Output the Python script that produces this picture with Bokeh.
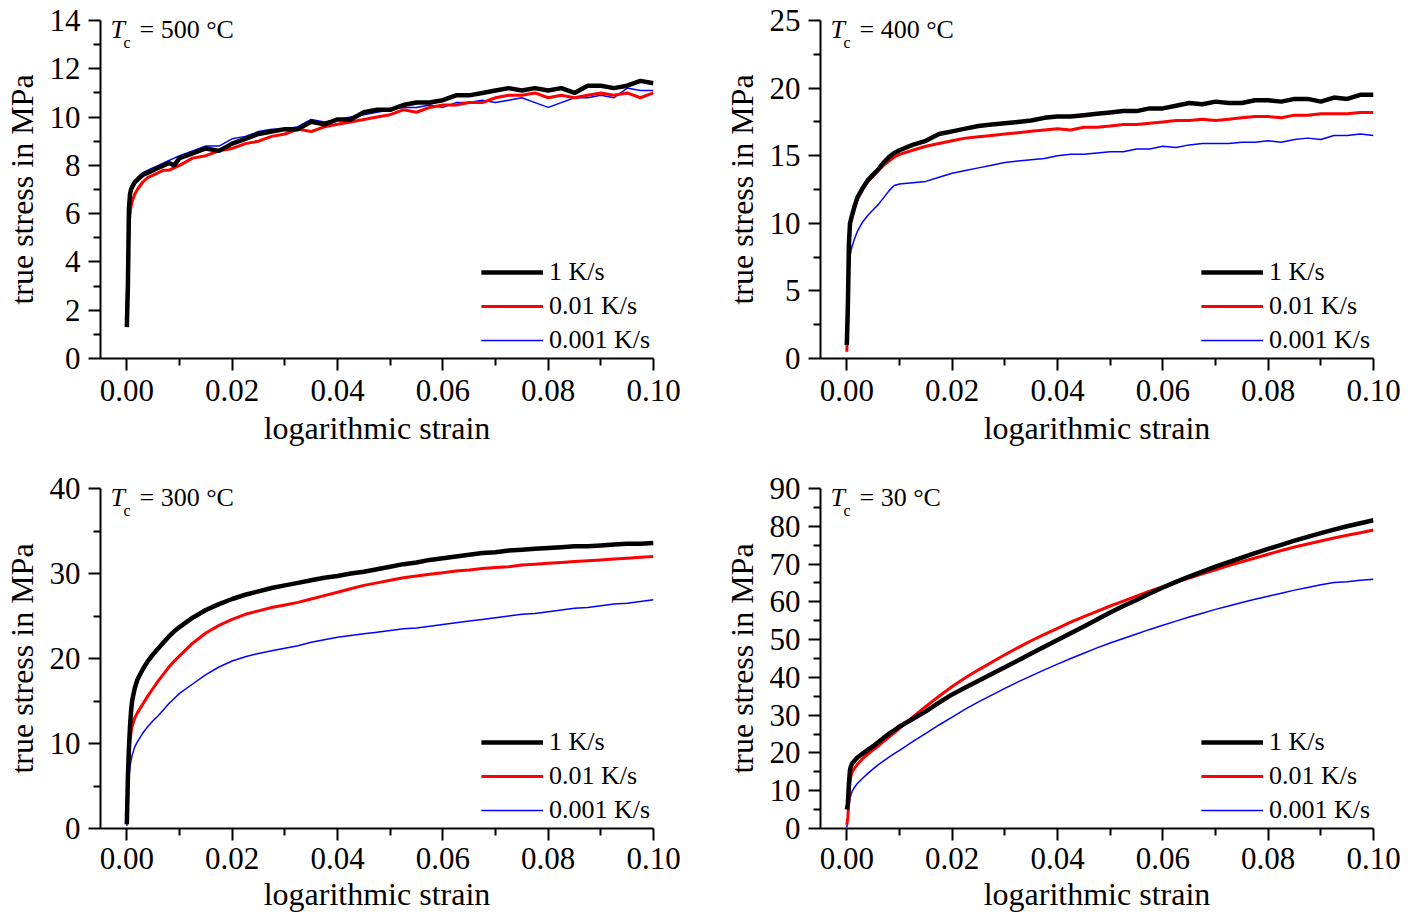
from bokeh.plotting import figure
from bokeh.models import Range1d, FixedTicker, NumeralTickFormatter, Legend, LegendItem, Label
from bokeh.layouts import column, row
from bokeh.embed import file_html
from bokeh.resources import INLINE

# ---------------- data ----------------
strain = [0.0, 0.0002, 0.0004, 0.0006, 0.0008, 0.001, 0.0015, 0.002, 0.003, 0.004, 0.005, 0.006,
          0.007, 0.008, 0.009, 0.010, 0.0125, 0.015, 0.0175, 0.020, 0.0225, 0.025, 0.0275, 0.030,
          0.0325, 0.035, 0.0375, 0.040, 0.0425, 0.045, 0.0475, 0.050, 0.0525, 0.055, 0.0575, 0.060,
          0.0625, 0.065, 0.0675, 0.070, 0.0725, 0.075, 0.0775, 0.080, 0.0825, 0.085, 0.0875, 0.090,
          0.0925, 0.095, 0.0975, 0.100]

series_labels = ["1 K/s", "0.01 K/s", "0.001 K/s"]

# Tc = 500 C
t500_1 = [1.3, 3.0, 6.2, 6.8, 7.0, 7.1, 7.3, 7.4, 7.6, 7.7, 7.8, 7.9, 8.0, 8.1, 8.0, 8.3,
          8.5, 8.7, 8.6, 8.9, 9.1, 9.3, 9.4, 9.5, 9.5, 9.8, 9.7, 9.9, 9.9, 10.2, 10.3, 10.3,
          10.5, 10.6, 10.6, 10.7, 10.9, 10.9, 11.0, 11.1, 11.2, 11.1, 11.2, 11.1, 11.2, 11.0,
          11.3, 11.3, 11.2, 11.3, 11.5, 11.4]
t500_001 = [2.0, 3.5, 5.5, 6.0, 6.3, 6.5, 6.8, 7.0, 7.3, 7.5, 7.6, 7.7, 7.8, 7.8, 7.9, 8.0,
            8.3, 8.4, 8.6, 8.7, 8.9, 9.0, 9.2, 9.3, 9.5, 9.4, 9.6, 9.7, 9.8, 9.9, 10.0, 10.1,
            10.3, 10.2, 10.4, 10.5, 10.5, 10.6, 10.6, 10.8, 10.9, 10.9, 11.0, 10.8, 10.9, 10.8,
            10.9, 11.0, 10.9, 11.0, 10.8, 11.0]
t500_0001 = [2.5, 4.0, 6.5, 6.9, 7.1, 7.2, 7.35, 7.5, 7.7, 7.8, 7.9, 8.0, 8.1, 8.2, 8.3, 8.4,
             8.6, 8.8, 8.8, 9.1, 9.2, 9.4, 9.5, 9.5, 9.6, 9.9, 9.8, 9.9, 10.0, 10.1, 10.2, 10.3,
             10.4, 10.4, 10.5, 10.4, 10.6, 10.6, 10.7, 10.6, 10.7, 10.8, 10.6, 10.4, 10.6, 10.8,
             10.8, 10.9, 10.8, 11.2, 11.1, 11.1]

# Tc = 400 C
t400_1 = [1.0, 4.0, 8.5, 10.0, 10.3, 10.6, 11.3, 11.9, 12.6, 13.2, 13.6, 14.0, 14.5, 14.9, 15.2, 15.4,
          15.8, 16.1, 16.6, 16.8, 17.0, 17.2, 17.3, 17.4, 17.5, 17.6, 17.8, 17.9, 17.9, 18.0, 18.1, 18.2,
          18.3, 18.3, 18.5, 18.5, 18.7, 18.9, 18.8, 19.0, 18.9, 18.9, 19.1, 19.1, 19.0, 19.2,
          19.2, 19.0, 19.3, 19.2, 19.5, 19.5]
t400_001 = [0.5, 3.0, 8.0, 9.8, 10.2, 10.5, 11.2, 11.8, 12.5, 13.1, 13.5, 13.9, 14.3, 14.6, 14.9, 15.1,
            15.4, 15.7, 15.9, 16.1, 16.3, 16.4, 16.5, 16.6, 16.7, 16.8, 16.9, 17.0, 16.9, 17.1, 17.1, 17.2,
            17.3, 17.3, 17.4, 17.5, 17.6, 17.6, 17.7, 17.6, 17.7, 17.8, 17.9, 17.9, 17.8, 18.0,
            18.0, 18.1, 18.1, 18.1, 18.2, 18.2]
t400_0001 = [1.0, 3.5, 6.5, 7.5, 8.0, 8.3, 8.9, 9.4, 10.1, 10.6, 11.0, 11.4, 11.9, 12.4, 12.8, 12.9,
             13.0, 13.1, 13.4, 13.7, 13.9, 14.1, 14.3, 14.5, 14.6, 14.7, 14.8, 15.0, 15.1, 15.1, 15.2, 15.3,
             15.3, 15.5, 15.5, 15.7, 15.6, 15.8, 15.9, 15.9, 15.9, 16.0, 16.0, 16.1, 16.0, 16.2,
             16.3, 16.2, 16.5, 16.5, 16.6, 16.5]

# Tc = 300 C
t300_1 = [0.5, 6.0, 9.5, 12.0, 13.8, 15.0, 16.5, 17.5, 18.7, 19.7, 20.5, 21.2, 21.9, 22.6, 23.2, 23.7,
          24.8, 25.7, 26.4, 27.0, 27.5, 27.9, 28.3, 28.6, 28.9, 29.2, 29.5, 29.7, 30.0, 30.2, 30.5, 30.8,
          31.1, 31.3, 31.6, 31.8, 32.0, 32.2, 32.4, 32.5, 32.7, 32.8, 32.9, 33.0, 33.1, 33.2,
          33.2, 33.3, 33.4, 33.5, 33.5, 33.6]
t300_001 = [0.5, 5.0, 8.5, 10.4, 11.3, 12.0, 13.0, 13.6, 14.6, 15.6, 16.5, 17.4, 18.2, 19.0, 19.7, 20.3,
            21.8, 23.0, 23.9, 24.6, 25.2, 25.6, 26.0, 26.3, 26.6, 27.0, 27.4, 27.8, 28.2, 28.6, 28.9, 29.2,
            29.5, 29.7, 29.9, 30.1, 30.3, 30.4, 30.6, 30.7, 30.8, 31.0, 31.1, 31.2, 31.3, 31.4,
            31.5, 31.6, 31.7, 31.8, 31.9, 32.0]
t300_0001 = [0.3, 3.5, 6.0, 7.2, 8.0, 8.6, 9.6, 10.2, 11.2, 12.0, 12.7, 13.3, 14.0, 14.7, 15.3, 15.9,
             17.0, 18.1, 19.0, 19.7, 20.2, 20.6, 20.9, 21.2, 21.5, 21.9, 22.2, 22.5, 22.7, 22.9, 23.1, 23.3,
             23.5, 23.6, 23.8, 24.0, 24.2, 24.4, 24.6, 24.8, 25.0, 25.2, 25.3, 25.5, 25.7, 25.9,
             26.0, 26.2, 26.4, 26.5, 26.7, 26.9]

# Tc = 30 C
t30_1 = [5.0, 6.5, 12.0, 15.5, 16.5, 17.2, 18.0, 18.8, 19.8, 20.8, 21.8, 22.9, 24.0, 25.1, 26.0, 27.0,
         29.0, 31.0, 33.3, 35.5, 37.3, 39.1, 40.9, 42.7, 44.5, 46.3, 48.1, 49.9, 51.7, 53.5, 55.3, 57.2,
         58.9, 60.5, 62.2, 63.8, 65.3, 66.7, 68.0, 69.3, 70.5, 71.7, 72.9, 74.0, 75.1, 76.2,
         77.2, 78.2, 79.1, 80.0, 80.8, 81.6]
t30_001 = [1.0, 3.0, 8.0, 12.5, 14.0, 15.0, 16.0, 17.0, 18.5, 19.7, 20.8, 21.9, 23.1, 24.2, 25.3, 26.5,
           29.5, 32.3, 35.0, 37.6, 39.9, 42.0, 44.0, 46.0, 47.9, 49.7, 51.4, 53.0, 54.6, 56.1, 57.5, 58.9,
           60.2, 61.5, 62.8, 64.0, 65.2, 66.3, 67.4, 68.5, 69.6, 70.6, 71.6, 72.6, 73.6, 74.5,
           75.3, 76.1, 76.9, 77.6, 78.3, 79.0]
t30_0001 = [0.3, 3.0, 6.0, 8.0, 9.0, 9.8, 11.0, 11.9, 13.3, 14.6, 15.8, 16.9, 17.9, 18.9, 19.8, 20.7,
            23.0, 25.2, 27.4, 29.5, 31.6, 33.5, 35.3, 37.1, 38.8, 40.4, 42.0, 43.5, 45.0, 46.4, 47.8, 49.1,
            50.3, 51.5, 52.7, 53.8, 54.9, 56.0, 57.0, 58.0, 58.9, 59.8, 60.7, 61.5, 62.3, 63.1,
            63.8, 64.5, 65.1, 65.3, 65.7, 66.0]

x_ticks = [0.0, 0.02, 0.04, 0.06, 0.08, 0.10]
x_minor = [0.01, 0.03, 0.05, 0.07, 0.09]

panels = [
    dict(temp="500", ymax=14, ystep=2, series=[t500_1, t500_001, t500_0001]),
    dict(temp="400", ymax=25, ystep=5, series=[t400_1, t400_001, t400_0001]),
    dict(temp="300", ymax=40, ystep=10, series=[t300_1, t300_001, t300_0001]),
    dict(temp="30", ymax=90, ystep=10, series=[t30_1, t30_001, t30_0001]),
]

# ---------------- styling ----------------
FONT = "Liberation Serif"
colors = ["#000000", "#ff0000", "#0000ff"]
widths = [4.5, 3.0, 1.5]
XMIN, XMAX = -0.005, 0.10
FRAME_W = 553.0


def make_panel(cfg, width, height, border_right, border_top, border_bottom, frame_h,
               xl_standoff, xa_standoff):
    p = figure(width=width, height=height, output_backend="svg", toolbar_location=None,
               x_range=Range1d(XMIN, XMAX), y_range=Range1d(0, cfg["ymax"]),
               min_border_left=100, min_border_right=border_right,
               min_border_top=border_top, min_border_bottom=border_bottom)
    p.outline_line_color = None
    p.xgrid.visible = False
    p.ygrid.visible = False
    p.background_fill_color = "white"
    p.border_fill_color = "white"

    ymax, ystep = cfg["ymax"], cfg["ystep"]
    yt = [v for v in range(0, ymax + 1, ystep)]
    ym = [v + ystep / 2 for v in yt[:-1]]
    p.yaxis.ticker = FixedTicker(ticks=yt, minor_ticks=ym)
    p.xaxis.ticker = FixedTicker(ticks=x_ticks, minor_ticks=x_minor)
    p.xaxis.formatter = NumeralTickFormatter(format="0.00")

    for ax in (p.xaxis[0], p.yaxis[0]):
        ax.axis_line_width = 2
        ax.axis_line_color = "black"
        ax.major_tick_line_width = 2
        ax.minor_tick_line_width = 2
        ax.major_tick_line_color = "black"
        ax.minor_tick_line_color = "black"
        ax.major_tick_out = 12
        ax.major_tick_in = 0
        ax.minor_tick_out = 7
        ax.minor_tick_in = 0
        ax.major_label_text_font = FONT
        ax.major_label_text_font_size = "31px"
        ax.major_label_text_color = "black"
        ax.axis_label_text_font = FONT
        ax.axis_label_text_font_size = "32px"
        ax.axis_label_text_font_style = "normal"
        ax.axis_label_text_color = "black"
    p.xaxis.axis_label = "logarithmic strain"
    p.yaxis.axis_label = "true stress in MPa"
    p.xaxis.major_label_standoff = xl_standoff
    p.xaxis.axis_label_standoff = xa_standoff
    p.yaxis.major_label_standoff = 8
    p.yaxis.axis_label_standoff = 7

    renderers = []
    for ser, c, w in zip(cfg["series"], colors, widths):
        renderers.append(p.line(strain, ser, line_color=c, line_width=w))
    # black drawn on top
    p.renderers = p.renderers[::-1]

    legend = Legend(items=[LegendItem(label=lab, renderers=[r]) for lab, r in zip(series_labels, renderers)],
                    location="bottom_right", border_line_color=None, background_fill_alpha=0,
                    label_text_font=FONT, label_text_font_size="26px", label_text_color="black",
                    glyph_width=62, glyph_height=24, label_height=24, label_standoff=6,
                    spacing=4, padding=0, margin=3)
    p.add_layout(legend, "center")

    # annotation  T_c = ... °C
    span = XMAX - XMIN
    ypx = cfg["ymax"] / frame_h
    p.add_layout(Label(x=XMIN + 10 * span / FRAME_W, y=cfg["ymax"] - 9 * ypx, text="T",
                       text_font=FONT, text_font_size="26px", text_font_style="italic",
                       text_baseline="middle", text_align="left", text_color="black"))
    p.add_layout(Label(x=XMIN + 23 * span / FRAME_W, y=cfg["ymax"] - 22 * ypx, text="c",
                       text_font=FONT, text_font_size="16px",
                       text_baseline="middle", text_align="left", text_color="black"))
    p.add_layout(Label(x=XMIN + 39 * span / FRAME_W, y=cfg["ymax"] - 9 * ypx, text="= %s °C" % cfg["temp"],
                       text_font=FONT, text_font_size="26px",
                       text_baseline="middle", text_align="left", text_color="black"))
    return p


p1 = make_panel(panels[0], 720, 466, 67, 20, 108, 338, 9, 6)
p2 = make_panel(panels[1], 688, 466, 35, 20, 108, 338, 9, 6)
p3 = make_panel(panels[2], 720, 453, 67, 22, 91, 340, 7, 4)
p4 = make_panel(panels[3], 688, 453, 35, 22, 91, 340, 7, 4)

layout = column(row(p1, p2), row(p3, p4))
open("out.html", "w").write(file_html(layout, INLINE))
